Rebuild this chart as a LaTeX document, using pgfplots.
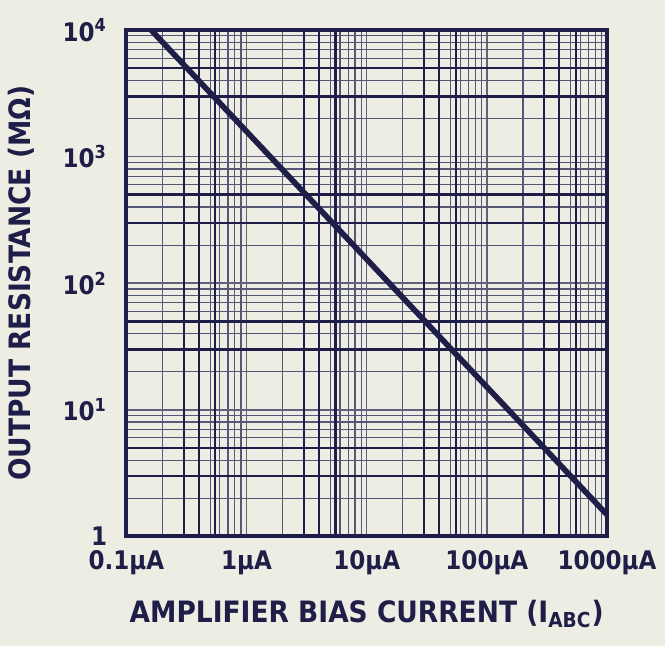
\documentclass[border=0pt]{standalone}
\usepackage{pgfplots}
\pgfplotsset{compat=1.18}
\usepackage{fontspec}
\setmainfont{DejaVu Sans Condensed}
\usetikzlibrary{backgrounds}
\definecolor{paper}{HTML}{EEEDE3}
\definecolor{ink}{HTML}{1E1E48}

\begin{document}
\begin{tikzpicture}[background rectangle/.style={fill=paper},
  show background rectangle, inner frame xsep=0pt, inner frame ysep=4pt]
\begin{axis}[
scale only axis,
width=6.6cm, height=6.95cm,
xmode=log, ymode=log,
xmin=0.1, xmax=1000,
ymin=1, ymax=10000,
xtick={0.1,1,10,100,1000},
xticklabels={0.1µA,1µA,10µA,100µA,1000µA},
ytick={1,10,100,1000,10000},
yticklabels={1,10\textsuperscript{1},10\textsuperscript{2},10\textsuperscript{3},10\textsuperscript{4}},
extra y ticks={3,5,30,50,300,500,3000,5000},
extra y tick labels={},
extra y tick style={grid=major, major grid style={ink, line width=1pt}},
extra x ticks={0.3,0.4,0.55,3,4,5.5,30,40,55,300,400,550},
extra x tick labels={},
extra x tick style={grid=major, major grid style={ink, line width=0.9pt}},
major tick length=0pt, minor tick length=0pt,
grid=both,
major grid style={ink!70, line width=0.6pt},
minor grid style={ink!75, line width=0.45pt},
axis line style={ink, line width=1.6pt},
tick label style={font=\bfseries, text=ink},
xticklabel style={yshift=-2pt},
yticklabel style={xshift=-4pt},
xlabel={AMPLIFIER BIAS CURRENT (I\textsubscript{ABC})},
ylabel={OUTPUT RESISTANCE (MΩ)},
label style={font=\bfseries\fontsize{11.5}{13}\selectfont, text=ink},
xlabel style={yshift=-3pt},
ylabel style={yshift=4pt},
clip=true,
]
\addplot[ink, line width=2.2pt] coordinates {
(0.161,10000)
(1000,1.48)
};
\end{axis}
\end{tikzpicture}
\end{document}
